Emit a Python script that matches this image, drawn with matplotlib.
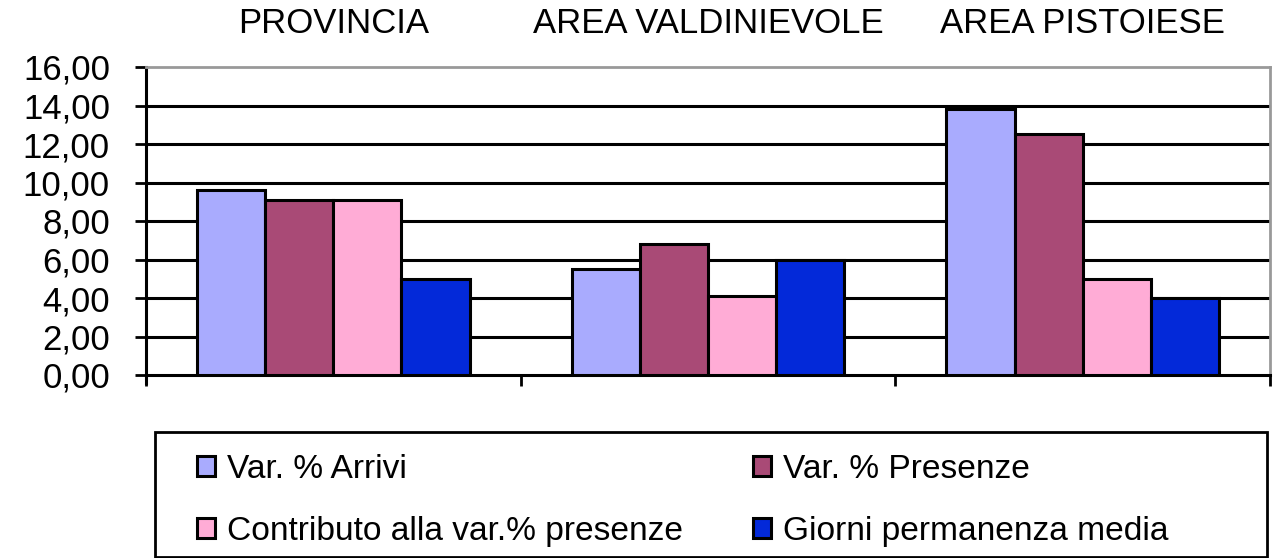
import matplotlib
matplotlib.use("Agg")
from matplotlib import pyplot as plt
import matplotlib.ticker
import matplotlib.patches
import numpy as np

plt.rcParams['font.family'] = ['Liberation Sans', 'DejaVu Sans']

## data
categories = ["PROVINCIA", "AREA VALDINIEVOLE", "AREA PISTOIESE"]
series_names = ["Var. % Arrivi", "Var. % Presenze",
                "Contributo alla var.% presenze", "Giorni permanenza media"]
arrivi = [9.6, 5.5, 13.8]
presenze = [9.1, 6.8, 12.5]
contributo = [9.1, 4.1, 5.0]
giorni = [5.0, 5.95, 4.0]
colors = ["#A9ABFE", "#A94A76", "#FFACD6", "#0329D9"]

values = [arrivi, presenze, contributo, giorni]

W, H = 1278, 558
fig = plt.figure(figsize=(W / 100, H / 100), dpi=100)
ax = fig.add_axes([146/W, 1 - 375/H, 1124/W, 308/H])

x = np.arange(len(categories))
w = 1.0 / 5.5
bars = []
for i, (vals, name, col) in enumerate(zip(values, series_names, colors)):
    b = ax.bar(x + (i - 1.5) * w, vals, width=w, color=col, edgecolor="black",
               linewidth=2.2, label=name, zorder=3)
    bars.append(b)

ax.set_xlim(-0.5, len(categories) - 0.5)
ax.set_ylim(0, 16)
ax.yaxis.set_major_locator(matplotlib.ticker.MultipleLocator(2))
ax.yaxis.set_major_formatter(matplotlib.ticker.FuncFormatter(
    lambda v, p: ("%.2f" % v).replace(".", ",")))
ax.tick_params(axis="y", direction="out", length=8, width=2, labelsize=25, pad=18)

# gridlines
for yv in np.arange(2, 16, 2):
    ax.axhline(yv, color="black", linewidth=2.2, zorder=1)

# category labels on top, boundary ticks at the bottom
ax.set_xticks(x)
ax.set_xticklabels(categories)
ax.tick_params(axis="x", which="major", bottom=False, top=False,
               labelbottom=False, labeltop=True, labelsize=25, pad=16)
ax.set_xticks(np.arange(-0.5, len(categories)), minor=True)
ax.tick_params(axis="x", which="minor", direction="out", length=8, width=2,
               bottom=True, top=False)

for s in ["left", "bottom"]:
    ax.spines[s].set_linewidth(2.2)
    ax.spines[s].set_color("black")
for s in ["top", "right"]:
    ax.spines[s].set_linewidth(2)
    ax.spines[s].set_color("#999999")
ax.spines["left"].set_bounds(-0.4, 16)

# legend box
frame = matplotlib.patches.Rectangle((155/W, 1 - 557/H), 1112/W, (557 - 432)/H,
                                     transform=fig.transFigure, fill=False,
                                     edgecolor="black", linewidth=2)
fig.patches.append(frame)

handles = [bars[0], bars[2], bars[1], bars[3]]
labels = [series_names[0], series_names[2], series_names[1], series_names[3]]
leg = fig.legend(handles, labels, ncol=2, loc="center left",
                 bbox_to_anchor=(197/W, 1 - 500.5/H),
                 fontsize=24.1, frameon=False, handlelength=0.53,
                 handleheight=0.53, handletextpad=0.36, labelspacing=0.93,
                 columnspacing=2.1, borderaxespad=0, borderpad=0)

fig.savefig("out.png", dpi=100)
